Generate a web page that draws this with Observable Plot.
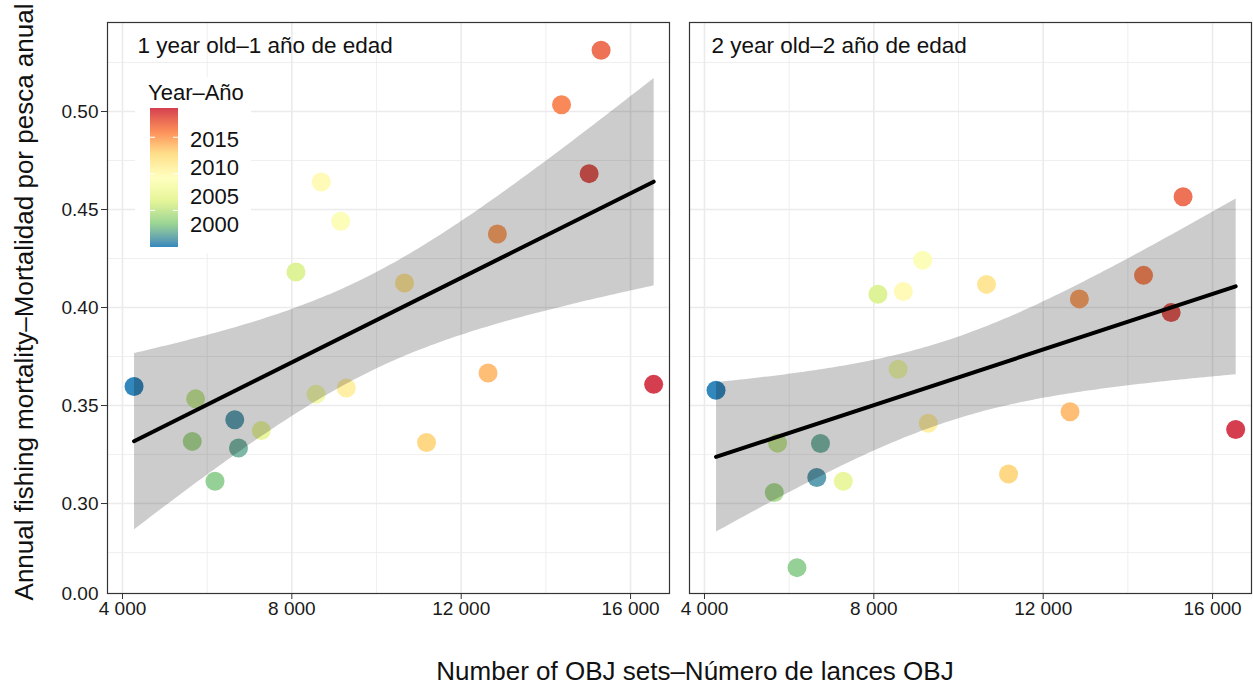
<!DOCTYPE html>
<html>
<head>
<meta charset="utf-8">
<script src="https://cdn.jsdelivr.net/npm/d3@7"></script>
<script src="https://cdn.jsdelivr.net/npm/@observablehq/plot@0.6"></script>
<style>
  html, body { margin: 0; padding: 0; background: white; }
  #wrap { position: relative; width: 1253px; height: 685px; font-family: "Liberation Sans", Arial, sans-serif; }
  #overlay { position: absolute; left: 0; top: 0; pointer-events: none; }
  #xtitle { position: absolute; left: 0; width: 1390px; top: 656px; text-align: center; font-size: 26px; color: #111; }
</style>
</head>
<body>
<div id="wrap">
  <div id="chart"></div>
  <svg id="overlay" width="1253" height="685"></svg>
  <div id="xtitle">Number of OBJ sets–Número de lances OBJ</div>
</div>
<script>
// ---- data ----
const panels = ["1 year old–1 año de edad", "2 year old–2 año de edad"];
const years = [2000, 2001, 2002, 2003, 2004, 2005, 2006, 2007, 2008, 2009,
               2010, 2011, 2012, 2013, 2014, 2015, 2016, 2017, 2018, 2019];
const objSets = [4273, 6652, 6740, 6185, 5648, 5727, 8097, 7278, 8573, 9154,
                 8696, 9286, 10661, 11181, 12634, 12855, 14370, 15304, 15022, 16546];
const fAge1 = [0.3597, 0.3427, 0.3283, 0.3114, 0.3317, 0.3534, 0.4181, 0.3372, 0.3558, 0.4440,
               0.4640, 0.3589, 0.4125, 0.3311, 0.3666, 0.4375, 0.5034, 0.5312, 0.4683, 0.3608];
const fAge2 = [0.3578, 0.3133, 0.3306, 0.2673, 0.3056, 0.3308, 0.4068, 0.3114, 0.3685, 0.4241,
               0.4082, 0.3410, 0.4118, 0.3151, 0.3468, 0.4044, 0.4164, 0.4565, 0.3974, 0.3378];
const xTicks = [4000, 8000, 12000, 16000];
const xMinor = [6000, 10000, 14000];
const yTicks = [0.30, 0.35, 0.40, 0.45, 0.50];
const yMinor = [0.275, 0.325, 0.375, 0.425, 0.475, 0.525];
const yBottomLabel = "0.00";
const legendTicks = [2000, 2005, 2010, 2015];
const spectral = ["#3288BD", "#99D594", "#E6F598", "#FFFFBF", "#FEE08B", "#FC8D59", "#D53E4F"];

const fAll = [fAge1, fAge2];
const data = panels.flatMap((p, k) => years.map((yr, i) => ({panel: p, year: yr, sets: objSets[i], F: fAll[k][i]})));

const yDomain = [0.2541, 0.5454];
const xDomain = [3646, 16920];
const fmtLocale = d3.formatLocale({decimal: ".", thousands: " ", grouping: [3], currency: ["", ""]});
const fmtX = fmtLocale.format(",");
const grid = "#ebebeb";

const plot = Plot.plot({
  width: 1253,
  height: 640,
  marginLeft: 107,
  marginRight: 1,
  marginTop: 22,
  marginBottom: 47,
  style: {fontFamily: "'Liberation Sans', Arial, sans-serif", fontSize: "19px", color: "#1a1a1a", background: "white"},
  x: {domain: xDomain},
  y: {domain: yDomain},
  fx: {domain: panels, paddingInner: 20 / 582.5, paddingOuter: 0, axis: null, label: null},
  color: {type: "linear", domain: [years[0], years[years.length - 1]], interpolate: d3.piecewise(d3.interpolateLab, spectral)},
  marks: [
    Plot.gridX(xMinor, {stroke: grid, strokeOpacity: 1, strokeWidth: 0.8}),
    Plot.gridX(xTicks, {stroke: grid, strokeOpacity: 1, strokeWidth: 1.6}),
    Plot.gridY(yMinor, {stroke: grid, strokeOpacity: 1, strokeWidth: 0.8}),
    Plot.gridY(yTicks, {stroke: grid, strokeOpacity: 1, strokeWidth: 1.6}),
    Plot.dot(data, {x: "sets", y: "F", fx: "panel", fill: "year", r: 9.5}),
    Plot.linearRegressionY(data, {x: "sets", y: "F", fx: "panel", ci: 0.95, stroke: "black", strokeWidth: 4, fill: "black", fillOpacity: 0.2}),
    Plot.frame({stroke: "#333", strokeWidth: 1.2}),
    Plot.text([panels[0]], {fx: d => d, text: d => d, frameAnchor: "top-left", dx: 30, dy: 23, textAnchor: "start", lineAnchor: "middle", fontSize: 22.5, fill: "#111"}),
    Plot.text([panels[1]], {fx: d => d, text: d => d, frameAnchor: "top-left", dx: 22, dy: 23, textAnchor: "start", lineAnchor: "middle", fontSize: 22.5, fill: "#111"}),
    Plot.axisX(xTicks, {tickSize: 6, tickPadding: 2, tickFormat: fmtX, label: null, stroke: "#333"}),
    Plot.axisY(yTicks, {tickSize: 6, tickPadding: 3, tickFormat: ".2f", label: null, stroke: "#333"}),
    Plot.axisY([yDomain[0]], {tickSize: 0, tickPadding: 9, tickFormat: () => yBottomLabel, label: null})
  ]
});
document.getElementById("chart").appendChild(plot);

// ---- overlay: y title and colour legend ----
const color = plot.scale("color");
const svg = d3.select("#overlay");
svg.append("text")
  .attr("transform", "translate(24,302) rotate(-90)")
  .attr("text-anchor", "middle")
  .attr("dominant-baseline", "central")
  .style("font-family", "'Liberation Sans', Arial, sans-serif")
  .style("font-size", "26px")
  .attr("fill", "#111")
  .text("Annual fishing mortality–Mortalidad por pesca anual");

const lg = svg.append("g");
lg.append("rect").attr("x", 135).attr("y", 77).attr("width", 116).attr("height", 176).attr("fill", "white");
lg.append("text").attr("x", 148).attr("y", 100)
  .style("font-family", "'Liberation Sans', Arial, sans-serif").style("font-size", "22px").attr("fill", "#111")
  .text("Year–Año");
const defs = svg.append("defs");
const grad = defs.append("linearGradient").attr("id", "yrgrad").attr("x1", 0).attr("y1", 1).attr("x2", 0).attr("y2", 0);
const y0 = years[0], y1 = years[years.length - 1];
d3.range(0, 41).forEach(i => {
  const yr = y0 + (y1 - y0) * i / 40;
  grad.append("stop").attr("offset", (i / 40 * 100) + "%").attr("stop-color", color.apply(yr));
});
const barTop = 108, barBot = 247, barX = 150, barW = 28;
lg.append("rect").attr("x", barX).attr("y", barTop).attr("width", barW).attr("height", barBot - barTop).attr("fill", "url(#yrgrad)");
const barScale = d3.scaleLinear().domain([y0, y1]).range([barBot, barTop]);
legendTicks.filter(t => barScale(t) > barTop + 1 && barScale(t) < barBot - 1).forEach(t => {
  const yy = barScale(t);
  lg.append("line").attr("x1", barX).attr("x2", barX + 5).attr("y1", yy).attr("y2", yy).attr("stroke", "white").attr("stroke-width", 1);
  lg.append("line").attr("x1", barX + barW - 5).attr("x2", barX + barW).attr("y1", yy).attr("y2", yy).attr("stroke", "white").attr("stroke-width", 1);
});
const labelY = {2015: 139, 2010: 167.5, 2005: 196, 2000: 224.5};
legendTicks.forEach(t => {
  lg.append("text").attr("x", 190).attr("y", labelY[t]).attr("dominant-baseline", "central")
    .style("font-family", "'Liberation Sans', Arial, sans-serif").style("font-size", "22px").attr("fill", "#111")
    .text(t);
});
</script>
</body>
</html>
